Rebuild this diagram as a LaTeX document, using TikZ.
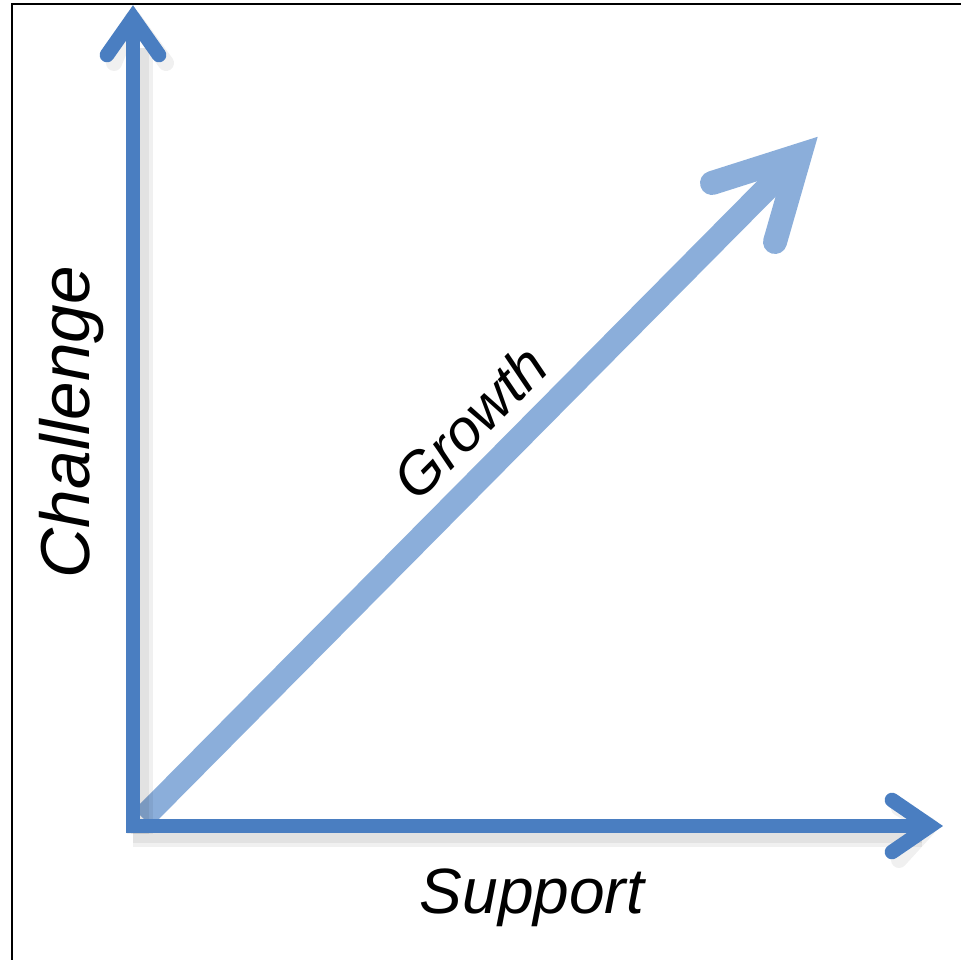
\documentclass[tikz,border=0pt]{standalone}
\usepackage{fontspec}
\newfontfamily\handfont{Liberation Sans}
\usepackage{tikz}
\definecolor{axisblue}{RGB}{74,126,193}
\definecolor{growblue}{RGB}{139,174,218}
\tikzset{
  axisline/.style={draw=axisblue, line width=11pt, line cap=round, line join=miter},
  growline/.style={draw=growblue, line width=18pt, line cap=round, line join=miter},
  shadowline/.style={draw=black, opacity=0.06, line cap=butt, line join=round, shift={(7,8)}},
  handlabel/.style={font=\handfont\itshape, inner sep=0.75pt}
}

\begin{document}
\begin{tikzpicture}[x=0.75pt,y=0.75pt,yscale=-1,xscale=1]
    \useasboundingbox (0,0) rectangle (961,960);
    
    %Frame lines
    \draw [line width=1.5pt] (12,960) -- (12,4) -- (961,4) ;
    
    %Key points
    \coordinate (orig) at (133,826);
    \coordinate (ytip) at (133,18);
    \coordinate (xtip) at (930,826);
    \coordinate (gtip) at (800,155);
    
    %Growth arrow
    \draw [growline, line cap=butt] (143,818) -- (gtip) ;
    \draw [growline] (712,183) -- (gtip) -- (775,242) ;
    
    %Shadows of the axes
    \foreach \w in {14,20} {
      \draw [shadowline, line width=\w pt] (133,826) -- (133,40) ;
      \draw [shadowline, line width=\w pt] (126,826) -- (915,826) ;
    }
    \draw [shadowline, line width=12pt, line cap=round] (107,55) -- (ytip) -- (159,55) ;
    \draw [shadowline, line width=12pt, line cap=round] (892,800) -- (xtip) -- (892,852) ;
    
    %Vertical axis
    \draw [axisline, line cap=butt] (133,833) -- (ytip) ;
    \draw [axisline] (107,55) -- (ytip) -- (159,55) ;
    %Horizontal axis
    \draw [axisline, line cap=butt] (126,826) -- (xtip) ;
    \draw [axisline] (892,800) -- (xtip) -- (892,852) ;
    
    % Text Node
    \node (chal) [handlabel, rotate=90, font=\handfont\itshape\fontsize{52}{60}\selectfont] at (72,422) {Challenge};
    % Text Node
    \node (supp) [handlabel, font=\handfont\itshape\fontsize{48}{56}\selectfont] at (532,898) {Support};
    % Text Node
    \node (grow) [handlabel, rotate=45, font=\handfont\itshape\fontsize{44}{52}\selectfont] at (470,422) {Growth};
    
\end{tikzpicture}
\end{document}
